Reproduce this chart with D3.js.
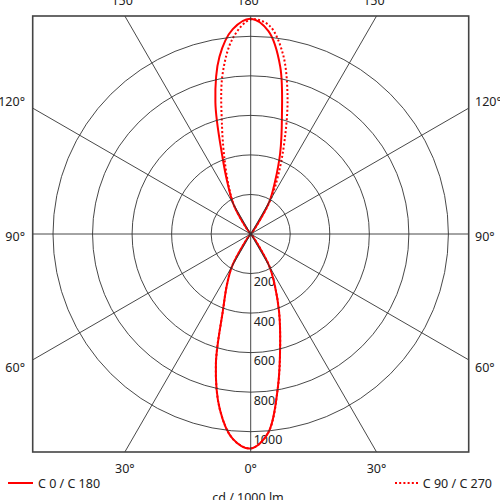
<!DOCTYPE html>
<html><head><meta charset="utf-8">
<script src="https://cdn.jsdelivr.net/npm/d3@7"></script>
<style>html,body{margin:0;padding:0;background:#fff;}svg{display:block;}</style>
</head><body>
<script>
// gamma angles (deg) from nadir
const gammaAngles = [0,5,10,15,20,25,30,35,40,45,50,55,60,65,70,75,80,85,90,95,100,105,110,115,120,125,130,135,140,145,150,155,160,165,170,175,180];
// intensities cd/1000 lm
const c0   = [1085,1010,790,576,420,290,190,55,10,0, 0,0,0,0,0,0,0,0,0,0,0,0,0,0,0,0,0, 0,10,55,190,290,436,610,860,1030,1089];
const c180 = [1085,1040,900,680,410,285,190,55,10,0, 0,0,0,0,0,0,0,0,0,0,0,0,0,0,0,0,0, 0,10,55,175,270,420,690,910,1040,1089];
const c90  = [1085,1010,790,576,420,290,190,55,10,0, 0,0,0,0,0,0,0,0,0,0,0,0,0,0,0,0,0, 0,10,60,200,330,500,720,930,1060,1085];
const c270 = [1085,1040,900,680,410,285,190,55,10,0, 0,0,0,0,0,0,0,0,0,0,0,0,0,0,0,0,0, 0,10,55,175,260,380,560,820,1000,1085];
const ringValues = [200,400,600,800,1000];
const radialAngles = [0,30,60,90,120,150,180,210,240,270,300,330];
const topLabels = ["150°","180°","150°"];
const bottomLabels = ["30°","0°","30°"];
const sideLabels = ["120°","90°","60°"];
const legendNames = ["C 0 / C 180","C 90 / C 270"];
const unitLabel = "cd / 1000 lm";

const W=500,H=500, cx=250.7, cy=234, half=218;
const font = "'Noto Sans', sans-serif";
const fs = 12.5;
const svg = d3.select("body").append("svg").attr("width",W).attr("height",H);
const r = d3.scaleLinear().domain([0,1000]).range([0,197.7]);

svg.append("defs").append("clipPath").attr("id","fr").append("rect")
  .attr("x",cx-half).attr("y",cy-half).attr("width",2*half).attr("height",2*half);

const g = svg.append("g").attr("transform",`translate(${cx},${cy})`);
const grid = svg.append("g").attr("clip-path","url(#fr)").append("g").attr("transform",`translate(${cx},${cy})`);

grid.selectAll("circle").data(ringValues).enter().append("circle")
  .attr("r",d=>r(d)).attr("fill","none").attr("stroke","#333").attr("stroke-width",0.9);
grid.selectAll("line").data(radialAngles).enter().append("line")
  .attr("x1",0).attr("y1",0)
  .attr("x2",d=>400*Math.sin(d*Math.PI/180)).attr("y2",d=>400*Math.cos(d*Math.PI/180))
  .attr("stroke","#333").attr("stroke-width",0.9);

svg.append("rect").attr("x",cx-half).attr("y",cy-half).attr("width",2*half).attr("height",2*half)
  .attr("fill","none").attr("stroke","#444").attr("stroke-width",1.6);

// ring value labels
g.selectAll("text.rv").data(ringValues).enter().append("text")
  .attr("x",3).attr("y",d=>r(d)+12.5).text(d=>d)
  .attr("font-family",font).attr("font-size",fs).attr("fill","#222");

// curves
const rad = Math.PI/180;
function loop(right,left){
  const pts=[];
  gammaAngles.forEach((a,i)=>pts.push([Math.PI-a*rad, r(right[i])]));
  for(let i=gammaAngles.length-2;i>=1;i--) pts.push([Math.PI+gammaAngles[i]*rad, r(left[i])]);
  return pts;
}
const line = d3.lineRadial().angle(d=>d[0]).radius(d=>d[1]).curve(d3.curveCatmullRomClosed.alpha(0.5));
g.append("path").attr("d",line(loop(c0,c180))).attr("fill","none").attr("stroke","#ff0000").attr("stroke-width",2);
g.append("path").attr("d",line(loop(c90,c270))).attr("fill","none").attr("stroke","#ff0000").attr("stroke-width",2).attr("stroke-dasharray","2,2.2");

// angle labels
const tx=[-1,0,1].map(k=>cx+k*half*Math.tan(30*rad));
svg.selectAll("text.top").data(topLabels).enter().append("text")
  .attr("x",(d,i)=>tx[i]).attr("y",5).attr("text-anchor","middle").text(d=>d)
  .attr("font-family",font).attr("font-size",fs).attr("fill","#222");
svg.selectAll("text.bot").data(bottomLabels).enter().append("text")
  .attr("x",(d,i)=>tx[i]).attr("y",473).attr("text-anchor","middle").text(d=>d)
  .attr("font-family",font).attr("font-size",fs).attr("fill","#222");
const sideY = [106,241,372];
svg.selectAll("text.sl").data(sideLabels).enter().append("text")
  .attr("x",25).attr("y",(d,i)=>sideY[i]).attr("text-anchor","end").text(d=>d)
  .attr("font-family",font).attr("font-size",fs).attr("fill","#222");
svg.selectAll("text.sr").data(sideLabels).enter().append("text")
  .attr("x",475).attr("y",(d,i)=>sideY[i]).attr("text-anchor","start").text(d=>d)
  .attr("font-family",font).attr("font-size",fs).attr("fill","#222");

// legend
svg.append("line").attr("x1",8).attr("x2",33).attr("y1",483).attr("y2",483).attr("stroke","#ff0000").attr("stroke-width",2);
svg.append("text").attr("x",38).attr("y",487.5).text(legendNames[0])
  .attr("font-family",font).attr("font-size",fs).attr("fill","#222");
svg.append("line").attr("x1",395).attr("x2",419).attr("y1",483).attr("y2",483).attr("stroke","#ff0000").attr("stroke-width",2).attr("stroke-dasharray","2,2.2");
svg.append("text").attr("x",492).attr("y",487.5).attr("text-anchor","end").text(legendNames[1])
  .attr("font-family",font).attr("font-size",fs).attr("fill","#222");
svg.append("text").attr("x",248).attr("y",502).attr("text-anchor","middle").text(unitLabel)
  .attr("font-family",font).attr("font-size",fs).attr("fill","#222");
</script>
</body></html>
